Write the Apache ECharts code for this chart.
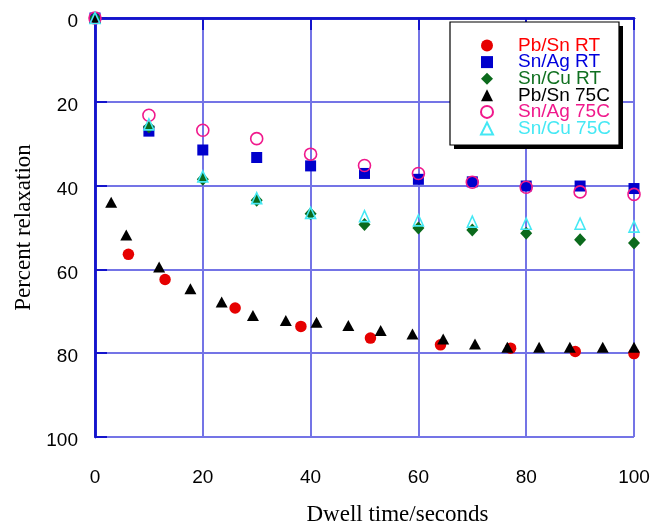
<!DOCTYPE html>
<html><head><meta charset="utf-8">
<script src="https://cdn.jsdelivr.net/npm/echarts@6/dist/echarts.min.js"></script>
<style>html,body{margin:0;padding:0;background:#fff}#c{width:664px;height:527px}</style>
</head><body><div id="c"></div>
<script>
// Data
const xTicks = [0, 20, 40, 60, 80, 100];
const yTicks = [0, 20, 40, 60, 80, 100];

const pbSnRT_x = [0, 6.2, 13, 26, 38.2, 51.1, 64.1, 77.1, 89.1, 100];
const pbSnRT_y = [0, 56.4, 62.4, 69.2, 73.6, 76.4, 78.0, 78.8, 79.6, 80.1];

const rt_x = [0, 10, 20, 30, 40, 50, 60, 70, 80, 90, 100];
const snAgRT_y = [0, 27.0, 31.5, 33.3, 35.3, 37.1, 38.5, 39.1, 40.1, 40.1, 40.7];
const snCuRT_y = [0, 26.0, 38.5, 43.5, 46.7, 49.3, 50.1, 50.6, 51.4, 52.9, 53.7];

const pbSn75_x = [0, 3, 5.8, 11.9, 17.7, 23.5, 29.3, 35.4, 41.1, 47, 53, 58.9, 64.6, 70.5, 76.5, 82.4, 88.1, 94.2, 100];
const pbSn75_y = [0, 44.0, 51.8, 59.4, 64.6, 67.8, 71.0, 72.2, 72.6, 73.4, 74.6, 75.4, 76.6, 77.8, 78.6, 78.6, 78.6, 78.6, 78.6];

const snAg75_y = [0, 23.2, 26.8, 28.8, 32.5, 35.2, 37.1, 39.2, 40.4, 41.5, 42.1];
const snCu75_y = [0, 25.4, 37.8, 43.0, 46.5, 47.3, 48.3, 48.6, 49.1, 49.1, 49.8];

const names = ['Pb/Sn RT', 'Sn/Ag RT', 'Sn/Cu RT', 'Pb/Sn 75C', 'Sn/Ag 75C', 'Sn/Cu 75C'];
const colors = ['#e60000', '#0000cc', '#0b6a1c', '#000000', '#f0198c', '#44e8f4'];
const legendColors = ['#ff0000', '#0000dd', '#107020', '#000000', '#f0198c', '#44e8f4'];

function pts(xs, ys) { return xs.map((x, i) => [x, ys[i]]); }

const AXIS_BLUE = '#1414cc';
const GRID_BLUE = '#7474e6';

const chart = echarts.init(document.getElementById('c'), null, {renderer: 'canvas'});
const labelFont = {fontFamily: 'Liberation Sans, Arial, sans-serif', fontSize: 19, color: '#000'};
const noTick = {show: false};
const lineStyleAxis = {show: true, lineStyle: {color: AXIS_BLUE, width: 2.5}};

// tick-only axes moved 6px inside the plot, so their outward ticks end on the frame
function xTickAxis(pos) {
  return {type: 'value', min: xTicks[0], max: xTicks[xTicks.length - 1], interval: 20, position: pos, offset: -6,
    axisLine: {show: false}, axisTick: {show: true, inside: false, length: 6, lineStyle: {color: AXIS_BLUE, width: 2}},
    axisLabel: {show: false}, splitLine: {show: false}};
}
function yTickAxis(pos) {
  return {type: 'value', min: yTicks[0], max: yTicks[yTicks.length - 1], interval: 20, inverse: true, position: pos, offset: -6,
    axisLine: {show: false}, axisTick: {show: true, inside: false, length: 6, lineStyle: {color: AXIS_BLUE, width: 2}},
    axisLabel: {show: false}, splitLine: {show: false}};
}

chart.setOption({
  animation: false,
  backgroundColor: '#fff',
  grid: {left: 95, right: 30, top: 18, bottom: 90, containLabel: false, outerBoundsMode: 'none'},
  graphic: [
    {type: 'rect', z: 1, shape: {x: 454, y: 26, width: 169, height: 123}, style: {fill: '#000'}},
    {type: 'rect', z: 2, shape: {x: 450, y: 22, width: 169, height: 123}, style: {fill: '#fff', stroke: '#000', lineWidth: 1.2}}
  ],
  xAxis: [{
    type: 'value', min: xTicks[0], max: xTicks[xTicks.length - 1], interval: 20,
    position: 'bottom',
    name: 'Dwell time/seconds', nameLocation: 'middle', nameGap: 66,
    nameTextStyle: {fontFamily: 'Liberation Serif, Times New Roman, serif', fontSize: 23, color: '#000', padding: [0, 0, 0, 66]},
    axisLine: lineStyleAxis, axisTick: noTick,
    axisLabel: Object.assign({margin: 31}, labelFont),
    splitLine: {show: true, lineStyle: {color: GRID_BLUE, width: 2}}
  }, {
    type: 'value', min: xTicks[0], max: xTicks[xTicks.length - 1], interval: 20,
    position: 'top', axisLine: lineStyleAxis, axisTick: noTick,
    axisLabel: {show: false}, splitLine: {show: false}
  }, xTickAxis('bottom'), xTickAxis('top')],
  yAxis: [{
    type: 'value', min: yTicks[0], max: yTicks[yTicks.length - 1], interval: 20, inverse: true,
    position: 'left',
    name: 'Percent relaxation', nameLocation: 'middle', nameGap: 59,
    nameTextStyle: {fontFamily: 'Liberation Serif, Times New Roman, serif', fontSize: 23, color: '#000'},
    axisLine: lineStyleAxis, axisTick: noTick,
    axisLabel: Object.assign({margin: 17, verticalAlign: 'top', lineHeight: 8}, labelFont),
    splitLine: {show: true, lineStyle: {color: GRID_BLUE, width: 2}}
  }, {
    type: 'value', min: yTicks[0], max: yTicks[yTicks.length - 1], interval: 20, inverse: true,
    position: 'right', axisLine: lineStyleAxis, axisTick: noTick,
    axisLabel: {show: false}, splitLine: {show: false}
  }, yTickAxis('left'), yTickAxis('right')],
  legend: {
    z: 10,
    orient: 'vertical', left: 451, top: 23,
    padding: [13, 6, 10, 29],
    itemWidth: 12, itemHeight: 12, itemGap: -2.4,
    textStyle: {fontFamily: 'Liberation Sans, Arial, sans-serif', fontSize: 19, padding: [0, 0, 0, 20]},
    data: names.map((n, i) => ({name: n, textStyle: {color: legendColors[i]}}))
  },
  series: [
    {name: names[0], type: 'scatter', data: pts(pbSnRT_x, pbSnRT_y), symbol: 'circle', symbolSize: 11.5,
     itemStyle: {color: colors[0], opacity: 1}},
    {name: names[1], type: 'scatter', data: pts(rt_x, snAgRT_y), symbol: 'rect', symbolSize: 11,
     itemStyle: {color: colors[1], opacity: 1}},
    {name: names[2], type: 'scatter', data: pts(rt_x, snCuRT_y), symbol: 'diamond', symbolSize: [12, 13],
     itemStyle: {color: colors[2], opacity: 1}},
    {name: names[3], type: 'scatter', data: pts(pbSn75_x, pbSn75_y), symbol: 'triangle', symbolSize: [12, 11],
     itemStyle: {color: colors[3], opacity: 1}},
    {name: names[4], type: 'scatter', data: pts(rt_x, snAg75_y), symbol: 'circle', symbolSize: 12,
     itemStyle: {color: 'rgba(0,0,0,0)', borderColor: colors[4], borderWidth: 1.6, opacity: 1}},
    {name: names[5], type: 'scatter', data: pts(rt_x, snCu75_y), symbol: 'triangle', symbolSize: [10, 11],
     itemStyle: {color: 'rgba(0,0,0,0)', borderColor: colors[5], borderWidth: 1.6, opacity: 1}}
  ]
});
</script></body></html>
